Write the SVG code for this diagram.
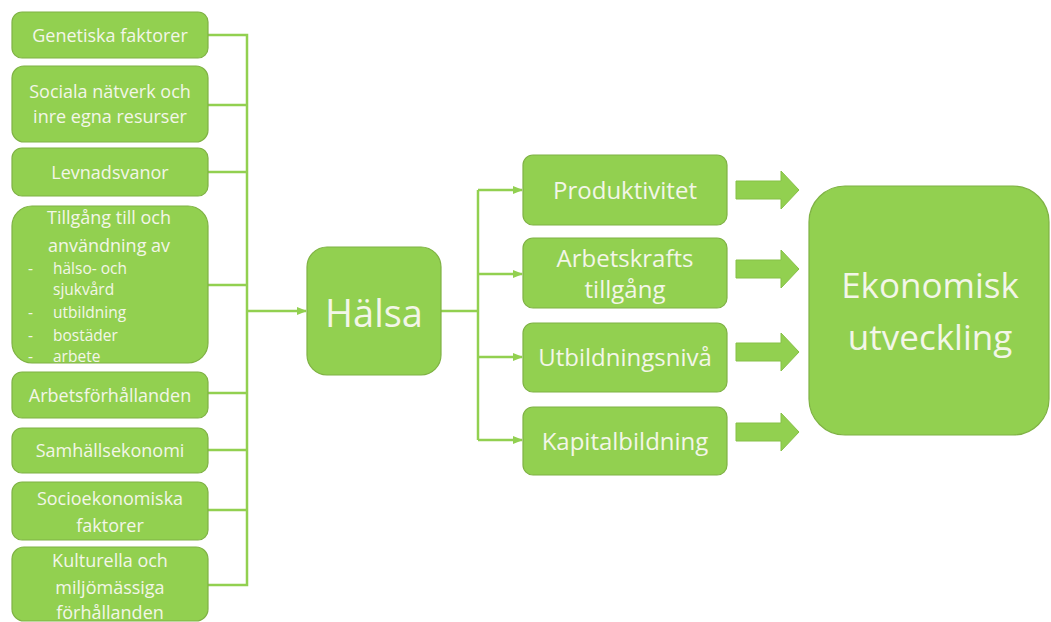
<svg xmlns="http://www.w3.org/2000/svg" width="1051" height="622" viewBox="0 0 1051 622">
<style>
.box{fill:#92D050;stroke:#7fb244;stroke-width:1.2}
.t{font-family:"Open Sans","Liberation Sans",sans-serif;fill:#f3f6e8;text-anchor:middle}
.s{font-size:18px}
.m{font-size:24px}
.sm{font-family:"Open Sans","Liberation Sans",sans-serif;fill:#f3f6e8;font-size:15.5px}
.c{fill:none;stroke:#92D050;stroke-width:2.5}
.ba{fill:#92D050;stroke:#86c046;stroke-width:1}
</style>
<defs>
<marker id="ah" markerWidth="10" markerHeight="8" refX="9" refY="4" orient="auto" markerUnits="userSpaceOnUse">
<path d="M0,0 L10,4 L0,8 Z" fill="#92D050"/>
</marker>
</defs>
<rect width="1051" height="622" fill="#ffffff"/>
<g id="connectors">
<path class="c" d="M208,35 H247 V585 H208"/>
<path class="c" d="M208,105 H247"/>
<path class="c" d="M208,172 H247"/>
<path class="c" d="M208,285 H247"/>
<path class="c" d="M208,393 H247"/>
<path class="c" d="M208,450 H247"/>
<path class="c" d="M208,510 H247"/>
<path class="c" d="M247,311 H306" marker-end="url(#ah)"/>
<path class="c" d="M441,311 H478"/>
<path class="c" d="M478,190 V440"/>
<path class="c" d="M478,190 H522" marker-end="url(#ah)"/>
<path class="c" d="M478,274 H522" marker-end="url(#ah)"/>
<path class="c" d="M478,357 H522" marker-end="url(#ah)"/>
<path class="c" d="M478,440 H522" marker-end="url(#ah)"/>
<path class="ba" d="M736,181 H781 V171 L799,190 L781,209 V199 H736 Z"/>
<path class="ba" d="M736,260 H781 V250 L799,269 L781,288 V278 H736 Z"/>
<path class="ba" d="M736,343 H781 V333 L799,352 L781,371 V361 H736 Z"/>
<path class="ba" d="M736,423 H781 V413 L799,432 L781,451 V441 H736 Z"/>
</g>
<g id="n-genetiska"><rect class="box" x="12" y="12" width="196" height="46" rx="10"/><text class="t s" x="110" y="41.5">Genetiska faktorer</text></g>
<g id="n-sociala"><rect class="box" x="12" y="66" width="196" height="76" rx="12"/><text class="t s" x="110" y="98">Sociala nätverk och</text><text class="t s" x="110" y="123">inre egna resurser</text></g>
<g id="n-levnadsvanor"><rect class="box" x="12" y="148" width="196" height="48" rx="10"/><text class="t s" x="110" y="178.5">Levnadsvanor</text></g>
<g id="n-tillgang"><rect class="box" x="12" y="206" width="196" height="157" rx="20"/>
<text class="t s" x="109" y="223.5">Tillgång till och</text>
<text class="t s" x="109" y="251.5">användning av</text>
<text class="sm" x="28" y="273.5">-</text><text class="sm" x="53" y="273.5">hälso- och</text>
<text class="sm" x="53" y="294.5">sjukvård</text>
<text class="sm" x="28" y="317.5">-</text><text class="sm" x="53" y="317.5">utbildning</text>
<text class="sm" x="28" y="340.5">-</text><text class="sm" x="53" y="340.5">bostäder</text>
<text class="sm" x="28" y="361.5">-</text><text class="sm" x="53" y="361.5">arbete</text>
</g>
<g id="n-arbetsforhallanden"><rect class="box" x="12" y="372" width="196" height="46" rx="10"/><text class="t s" x="110" y="401.5">Arbetsförhållanden</text></g>
<g id="n-samhallsekonomi"><rect class="box" x="12" y="428" width="196" height="45" rx="10"/><text class="t s" x="110" y="456.5">Samhällsekonomi</text></g>
<g id="n-socioekonomiska"><rect class="box" x="12" y="482" width="196" height="58" rx="10"/><text class="t s" x="110" y="504.5">Socioekonomiska</text><text class="t s" x="110" y="531.5">faktorer</text></g>
<g id="n-kulturella"><rect class="box" x="12" y="547" width="196" height="74" rx="12"/><text class="t s" x="110" y="566.5">Kulturella och</text><text class="t s" x="110" y="593.5">miljömässiga</text><text class="t s" x="110" y="618.5">förhållanden</text></g>
<g id="n-halsa"><rect class="box" x="307" y="247" width="134" height="128" rx="20"/><text class="t" style="font-size:38px" x="374" y="327">Hälsa</text></g>
<g id="n-produktivitet"><rect class="box" x="523" y="155" width="204" height="70" rx="10"/><text class="t m" x="625" y="198.5">Produktivitet</text></g>
<g id="n-arbetskrafts"><rect class="box" x="523" y="238" width="204" height="70" rx="10"/><text class="t m" x="625" y="266.5">Arbetskrafts</text><text class="t m" x="625" y="298">tillgång</text></g>
<g id="n-utbildningsniva"><rect class="box" x="523" y="323" width="204" height="69" rx="10"/><text class="t m" x="625" y="365.5">Utbildningsnivå</text></g>
<g id="n-kapitalbildning"><rect class="box" x="523" y="407" width="204" height="68" rx="10"/><text class="t m" x="625" y="449.5">Kapitalbildning</text></g>
<g id="n-ekonomisk"><rect class="box" x="809" y="186" width="240" height="249" rx="36"/><text class="t" style="font-size:35px" x="930" y="298">Ekonomisk</text><text class="t" style="font-size:35px" x="930" y="350">utveckling</text></g>
</svg>
